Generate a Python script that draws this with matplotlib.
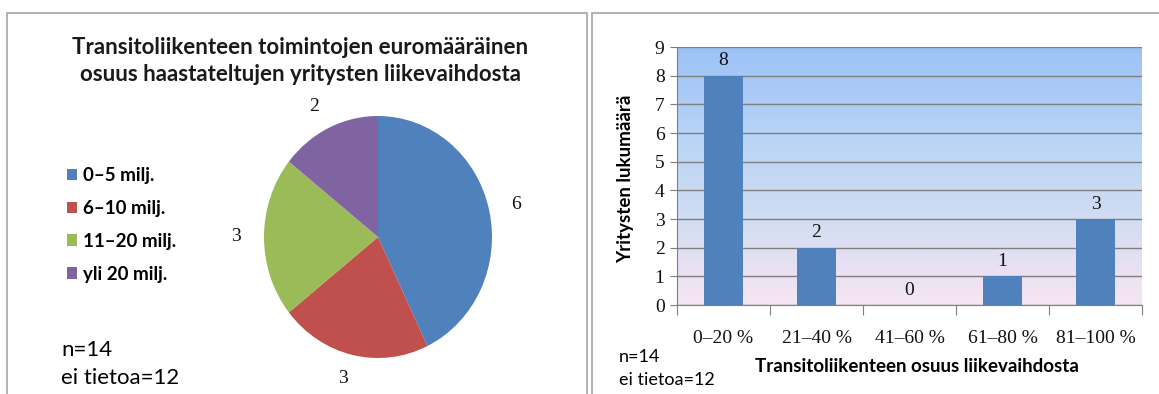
"""Transitoliikenne: piirakka (liikevaihto) + pylväät (osuus liikevaihdosta)."""

import matplotlib
matplotlib.use("Agg")
import matplotlib.pyplot as plt
import numpy as np
from matplotlib.colors import LinearSegmentedColormap
from matplotlib.patches import Rectangle

# --- data ---
pie_labels = ["0–5 milj.", "6–10 milj.", "11–20 milj.", "yli 20 milj."]
pie_values = [6, 3, 3, 2]
pie_colors = ["#4F81BD", "#C0504D", "#9BBB59", "#8064A2"]
pie_title = "Transitoliikenteen toimintojen euromääräinen\nosuus haastateltujen yritysten liikevaihdosta"

bar_categories = ["0–20 %", "21–40 %", "41–60 %", "61–80 %", "81–100 %"]
bar_values = [8, 2, 0, 1, 3]
bar_xlabel = "Transitoliikenteen osuus liikevaihdosta"
bar_ylabel = "Yritysten lukumäärä"
note_lines = ["n=14", "ei tietoa=12"]

SANS = ["Lato", "DejaVu Sans"]
SERIF = ["Liberation Serif", "DejaVu Serif"]

W, H = 1159, 394
fig = plt.figure(figsize=(W / 100, H / 100), dpi=100)


def px(x, y):
    """pikselit (ylhäältä) -> figuurin koordinaatit"""
    return x / W, 1 - y / H


# paneelien reunat
for x0, x1 in [(7, 587), (592, 1170)]:
    fig.patches.append(Rectangle(px(x0, 400), (x1 - x0) / W, (400 - 13) / H,
                                 transform=fig.transFigure, fill=False,
                                 edgecolor="#a6a6a6", lw=1.2))

# --- piirakka ---
cx, cy, rx, ry = 378, 237, 114, 121
ax1 = fig.add_axes([(cx - rx) / W, (H - cy - ry) / H, 2 * rx / W, 2 * ry / H])
wedges, texts = ax1.pie(pie_values, colors=pie_colors, startangle=90, counterclock=False,
                        labels=[str(v) for v in pie_values], labeldistance=1.2,
                        wedgeprops=dict(edgecolor="none"),
                        textprops=dict(fontsize=14, family=SERIF, color="#111111"))
ax1.set_aspect("auto")
ax1.set_xlim(-1, 1)
ax1.set_ylim(-1, 1)

fig.text(*px(300, 61), pie_title, ha="center", va="center", fontsize=16,
         family=SANS, weight="bold", color="#1a1a1a", linespacing=1.3)

fig.legend(wedges, pie_labels, loc="upper left", bbox_to_anchor=px(50, 150),
           frameon=False, prop=dict(family=SANS, size=13.5, weight="bold"),
           handlelength=0.55, handleheight=0.55, handletextpad=0.3, labelspacing=0.85)

fig.text(*px(61, 350), note_lines[0], ha="left", va="center", fontsize=16, family=SANS)
fig.text(*px(61, 378), note_lines[1], ha="left", va="center", fontsize=16, family=SANS)

# --- pylväät ---
left, right, top, bottom = 677, 1142, 47, 305
ax2 = fig.add_axes([left / W, (H - bottom) / H, (right - left) / W, (bottom - top) / H])
n = len(bar_categories)
xs = np.arange(n)

grad = LinearSegmentedColormap.from_list(
    "bg", [(0.0, "#f6e6f2"), (0.12, "#ebe1f2"), (0.35, "#cfdcf2"),
           (0.6, "#bcd6f5"), (1.0, "#9cc2f6")])
ax2.imshow(np.linspace(0, 1, 256).reshape(-1, 1), cmap=grad, aspect="auto",
           origin="lower", extent=(-0.5, n - 0.5, 0, 9), zorder=0)

ax2.bar(xs, bar_values, width=0.41, color="#4F81BD", zorder=3)
for x, v in zip(xs, bar_values):
    ax2.text(x, v + 0.22, str(v), ha="center", va="bottom", fontsize=14,
             family=SERIF, color="#111111", zorder=4)

ax2.set_xlim(-0.5, n - 0.5)
ax2.set_ylim(0, 9)
ax2.set_yticks(range(10))
ax2.set_yticklabels([str(i) for i in range(10)], family=SERIF, fontsize=14,
                    color="#111111")
ax2.yaxis.grid(True, color="#7f7f7f", lw=1)
ax2.set_axisbelow(False)
for gl in ax2.get_ygridlines():
    gl.set_zorder(1)
ax2.tick_params(axis="y", length=5, color="#7f7f7f", pad=4)

ax2.set_xticks(np.arange(n + 1) - 0.5)
ax2.set_xticklabels([])
ax2.tick_params(axis="x", which="major", length=7, color="#7f7f7f")
ax2.set_xticks(xs, minor=True)
ax2.set_xticklabels(bar_categories, minor=True, family=SERIF, fontsize=14,
                    color="#111111")
ax2.tick_params(axis="x", which="minor", length=0, pad=18)

for s in ["top", "right"]:
    ax2.spines[s].set_visible(False)
for s in ["left", "bottom"]:
    ax2.spines[s].set_color("#7f7f7f")

fig.text(*px(917, 367), bar_xlabel, ha="center", va="center", fontsize=13.5,
         family=SANS, weight="bold")
fig.text(*px(626, 179), bar_ylabel, ha="center", va="center", rotation=90,
         fontsize=13.5, family=SANS, weight="bold")

fig.text(*px(619, 357), note_lines[0], ha="left", va="center", fontsize=13, family=SANS)
fig.text(*px(619, 380), note_lines[1], ha="left", va="center", fontsize=13, family=SANS)

fig.savefig("out.png", dpi=100, facecolor="white")
